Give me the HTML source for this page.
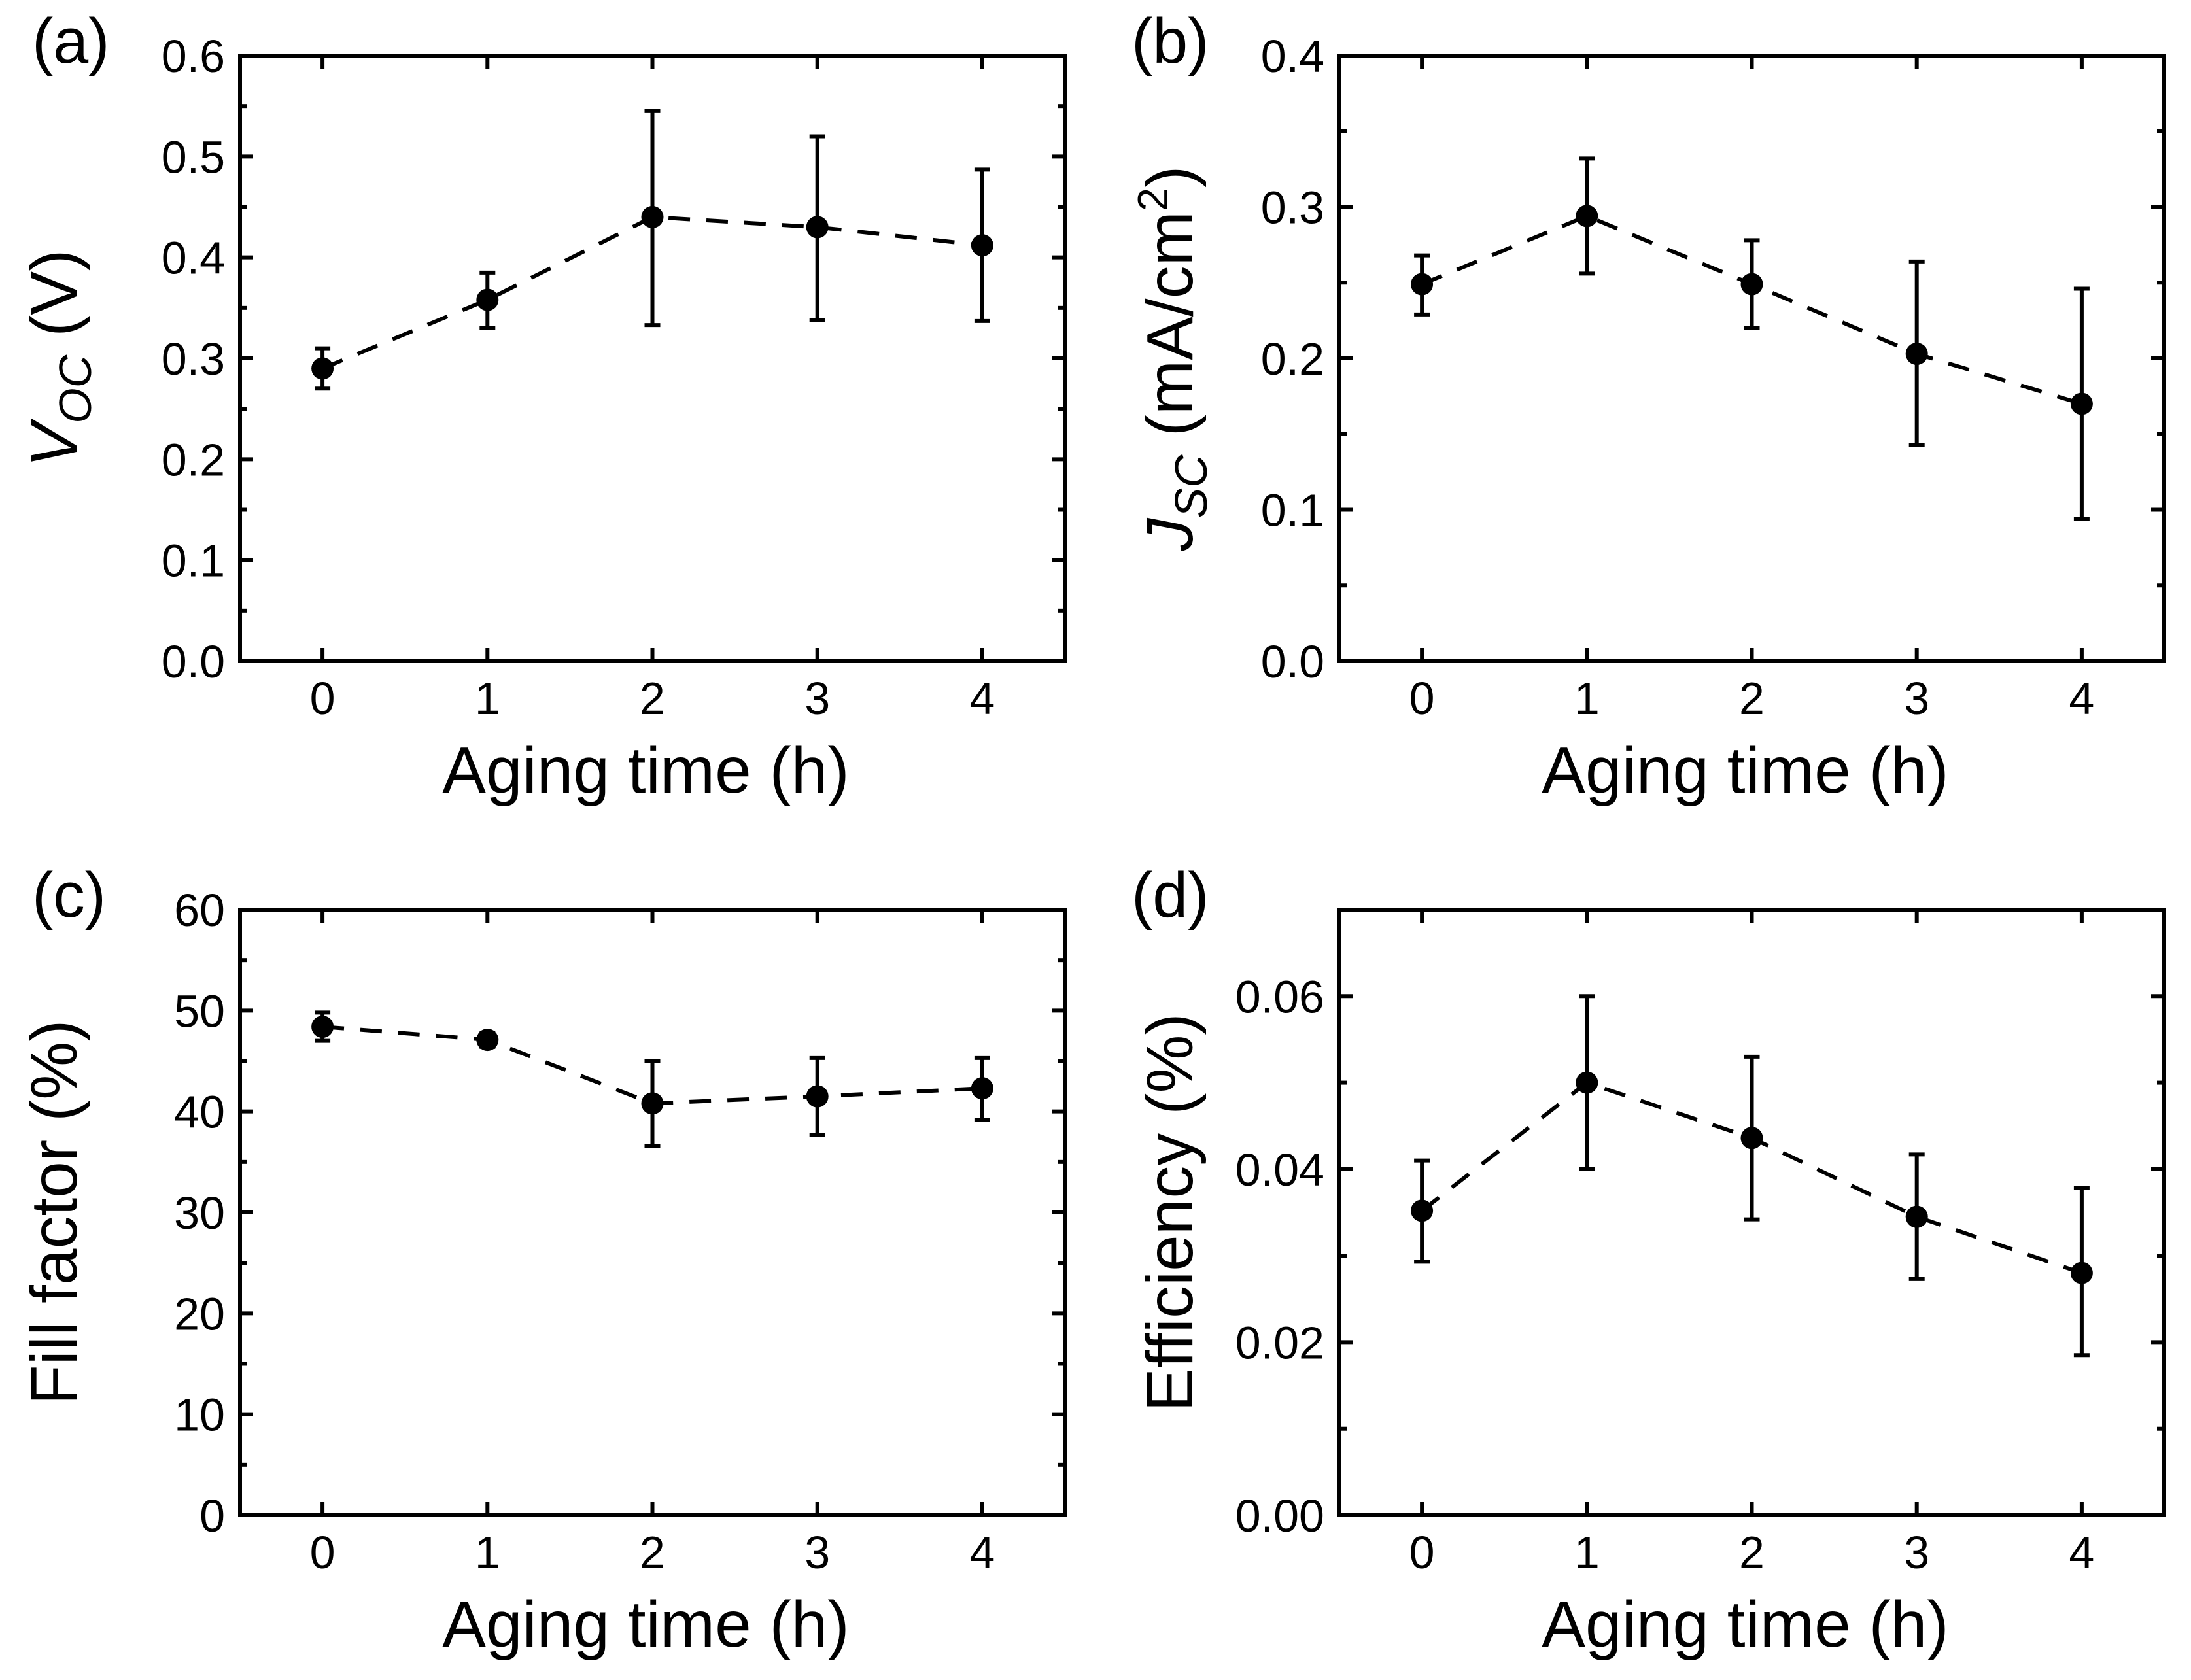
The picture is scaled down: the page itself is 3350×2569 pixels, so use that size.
<!DOCTYPE html>
<html><head><meta charset="utf-8"><style>
html,body{margin:0;padding:0;background:#fff;}
svg{display:block;font-family:"Liberation Sans",Arial,sans-serif;}
</style></head><body>
<svg id="fig" width="3350" height="2569" viewBox="0 0 3350 2569"></svg>
<script>
const categories = [0, 1, 2, 3, 4];
const xTickLabels = ["0", "1", "2", "3", "4"];
const voc = [0.290, 0.358, 0.440, 0.430, 0.412];
const vocLo = [0.270, 0.330, 0.333, 0.338, 0.337];
const vocHi = [0.310, 0.385, 0.545, 0.520, 0.487];
const vocTicks = ["0.0", "0.1", "0.2", "0.3", "0.4", "0.5", "0.6"];
const jsc = [0.249, 0.294, 0.249, 0.203, 0.170];
const jscLo = [0.229, 0.256, 0.220, 0.143, 0.094];
const jscHi = [0.268, 0.332, 0.278, 0.264, 0.246];
const jscTicks = ["0.0", "0.1", "0.2", "0.3", "0.4"];
const ff = [48.4, 47.1, 40.8, 41.5, 42.3];
const ffLo = [47.0, 46.4, 36.6, 37.7, 39.2];
const ffHi = [49.8, 47.8, 45.0, 45.3, 45.3];
const ffTicks = ["0", "10", "20", "30", "40", "50", "60"];
const eff = [0.0352, 0.0500, 0.0436, 0.0345, 0.0280];
const effLo = [0.0293, 0.0400, 0.0342, 0.0273, 0.0185];
const effHi = [0.0410, 0.0600, 0.0530, 0.0417, 0.0378];
const effTicks = ["0.00", "0.02", "0.04", "0.06"];

const NS = "http://www.w3.org/2000/svg";
const svg = document.getElementById("fig");
function mk(tag, attrs, parent) {
  const e = document.createElementNS(NS, tag);
  for (const k in attrs) e.setAttribute(k, attrs[k]);
  (parent || svg).appendChild(e);
  return e;
}
const SW = 6;

function panel(o) {
  const g = mk("g", {});
  
  
  const L = o.left, R = o.left + 1261, T = o.top, B = o.top + 926;
  const xs = v => L + (v + 0.5) / 5 * (R - L);
  const ys = v => B - (v - o.ymin) / (o.ymax - o.ymin) * (B - T);
  const fr = mk("rect", {x: L, y: T, width: R - L, height: B - T, fill: "none", stroke: "#000", "stroke-width": SW}, g);
  
  
  categories.forEach((c, i) => {
    const x = xs(c);
    mk("line", {x1: x, y1: B, x2: x, y2: B - 20, stroke: "#000", "stroke-width": SW}, g);
    mk("line", {x1: x, y1: T, x2: x, y2: T + 20, stroke: "#000", "stroke-width": SW}, g);
    const t = mk("text", {x: x, y: B + 81, "font-size": 70, "text-anchor": "middle"}, g);
    t.textContent = xTickLabels[i];
    
    
  });
  o.ticks.forEach((lab, i) => {
    const v = o.ymin + i * o.major;
    const y = ys(v);
    mk("line", {x1: L, y1: y, x2: L + 20, y2: y, stroke: "#000", "stroke-width": SW}, g);
    mk("line", {x1: R, y1: y, x2: R - 20, y2: y, stroke: "#000", "stroke-width": SW}, g);
    const t = mk("text", {x: L - 23, y: y + 25, "font-size": 70, "text-anchor": "end"}, g);
    t.textContent = lab;
    
    
    const vm = v + o.major / 2;
    if (vm < o.ymax - 1e-9) {
      const ym = ys(vm);
      mk("line", {x1: L, y1: ym, x2: L + 11, y2: ym, stroke: "#000", "stroke-width": SW}, g);
      mk("line", {x1: R, y1: ym, x2: R - 11, y2: ym, stroke: "#000", "stroke-width": SW}, g);
    }
  });
  const pts = categories.map((c, i) => xs(c) + "," + ys(o.vals[i])).join(" ");
  const pl = mk("polyline", {points: pts, fill: "none", stroke: "#000", "stroke-width": SW, "stroke-dasharray": "33 25"}, g);
  
  
  categories.forEach((c, i) => {
    const x = xs(c), yl = ys(o.lo[i]), yh = ys(o.hi[i]);
    const eb = mk("g", {stroke: "#000", "stroke-width": SW}, g);
    
    
    mk("line", {x1: x, y1: yl, x2: x, y2: yh}, eb);
    mk("line", {x1: x - 12, y1: yl, x2: x + 12, y2: yl}, eb);
    mk("line", {x1: x - 12, y1: yh, x2: x + 12, y2: yh}, eb);
    const p = mk("circle", {cx: x, cy: ys(o.vals[i]), r: 17, fill: "#000"}, g);
    
    
  });
  const xt = mk("text", {x: (L + R) / 2 - 10, y: B + 201, "font-size": 100, "text-anchor": "middle"}, g);
  xt.textContent = "Aging time (h)";
  
  
  const cy = (T + B) / 2, bx = L - o.titleOff;
  const yt = mk("text", {x: bx, y: cy, "font-size": 100, "text-anchor": "middle", transform: "rotate(-90 " + bx + " " + cy + ")"}, g);
  yt.innerHTML = o.ytitle;
  
  
  const pt = mk("text", {x: L - 318, y: T + 11, "font-size": 97}, g);
  pt.textContent = o.label;
  
  
}

panel({name: "panel-a-voc", left: 367, top: 85, ymin: 0, ymax: 0.6, major: 0.1, ticks: vocTicks, vals: voc, lo: vocLo, hi: vocHi, titleOff: 250, label: "(a)",
  ytitle: '<tspan font-style="italic">V</tspan><tspan font-style="italic" font-size="70" dy="22">OC</tspan><tspan dy="-22"> (V)</tspan>'});
panel({name: "panel-b-jsc", left: 2048, top: 85, ymin: 0, ymax: 0.4, major: 0.1, ticks: jscTicks, vals: jsc, lo: jscLo, hi: jscHi, titleOff: 225, label: "(b)",
  ytitle: '<tspan font-style="italic">J</tspan><tspan font-style="italic" font-size="70" dy="22">SC</tspan><tspan dy="-22"> (mA/cm</tspan><tspan font-size="65" dy="-38">2</tspan><tspan dy="38">)</tspan>'});
panel({name: "panel-c-fill-factor", left: 367, top: 1391, ymin: 0, ymax: 60, major: 10, ticks: ffTicks, vals: ff, lo: ffLo, hi: ffHi, titleOff: 250, label: "(c)",
  ytitle: 'Fill factor (%)'});
panel({name: "panel-d-efficiency", left: 2048, top: 1391, ymin: 0, ymax: 0.07, major: 0.02, ticks: effTicks, vals: eff, lo: effLo, hi: effHi, titleOff: 225, label: "(d)",
  ytitle: 'Efficiency (%)'});
</script>
</body></html>
